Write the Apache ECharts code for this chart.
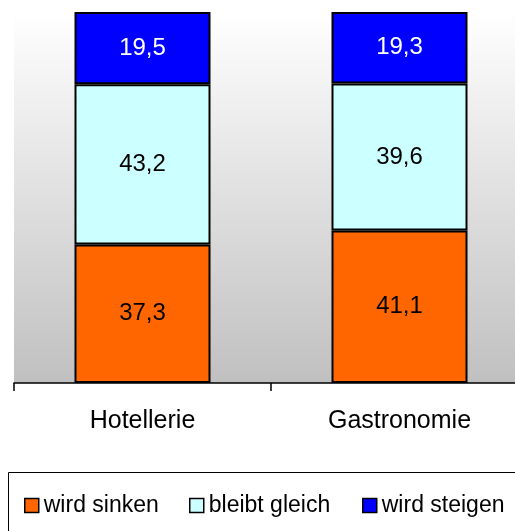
<!DOCTYPE html>
<html>
<head>
<meta charset="utf-8">
<script src="https://cdn.jsdelivr.net/npm/echarts@6/dist/echarts.min.js"></script>
<style>
  html, body { margin: 0; padding: 0; background: #fff; }
  #main { width: 515px; height: 531px; }
</style>
</head>
<body>
<div id="main"></div>
<script>
// Daten
const categories = ['Hotellerie', 'Gastronomie']
const seriesNames = ['wird sinken', 'bleibt gleich', 'wird steigen']
const sinken = [37.3, 41.1]
const gleich = [43.2, 39.6]
const steigen = [19.5, 19.3]

const colors = ['#FF6600', '#CCFFFF', '#0000FF']
const labelColors = ['#000', '#000', '#fff']
const values = [sinken, gleich, steigen]
const font = '"Liberation Sans", Arial, sans-serif'

const chart = echarts.init(document.getElementById('main'))

const series = seriesNames.map((name, i) => ({
  name: name,
  type: 'bar',
  stack: 'total',
  barWidth: 136,
  data: values[i],
  itemStyle: { color: colors[i], borderColor: '#000', borderWidth: 2 },
  label: {
    show: true,
    position: 'inside',
    color: labelColors[i],
    fontFamily: font,
    fontSize: 24,
    formatter: (p) => p.value.toFixed(1).replace('.', ',')
  }
}))

// eine Legende pro Eintrag, damit die Abstände passen
const legendLeft = [19, 184, 357]
const legends = seriesNames.map((name, i) => ({
  data: [name],
  left: legendLeft[i],
  top: 489,
  icon: 'rect',
  itemWidth: 14,
  itemHeight: 14,
  itemGap: 9,
  selectedMode: false,
  itemStyle: { borderColor: '#000', borderWidth: 1.5 },
  textStyle: { fontFamily: font, fontSize: 23, color: '#000' }
}))

chart.setOption({
  animation: false,
  grid: {
    left: 14, top: 12, width: 514, height: 371,
    show: true,
    borderWidth: 0,
    backgroundColor: new echarts.graphic.LinearGradient(0, 0, 0, 1, [
      { offset: 0, color: '#ffffff' },
      { offset: 1, color: '#c0c0c0' }
    ]),
    outerBoundsMode: 'none'
  },
  legend: legends,
  xAxis: {
    type: 'category',
    data: categories,
    axisLine: { show: true, lineStyle: { color: '#000', width: 1.5 } },
    axisTick: { show: true, length: 8, lineStyle: { color: '#000', width: 1.5 } },
    axisLabel: { color: '#000', fontFamily: font, fontSize: 25, margin: 26 }
  },
  yAxis: {
    type: 'value',
    min: 0,
    max: 100,
    show: false
  },
  graphic: [{
    type: 'rect',
    shape: { x: 8.5, y: 472.5, width: 600, height: 100 },
    style: { fill: 'none', stroke: '#000', lineWidth: 1 },
    silent: true
  }],
  series: series
})
</script>
</body>
</html>
